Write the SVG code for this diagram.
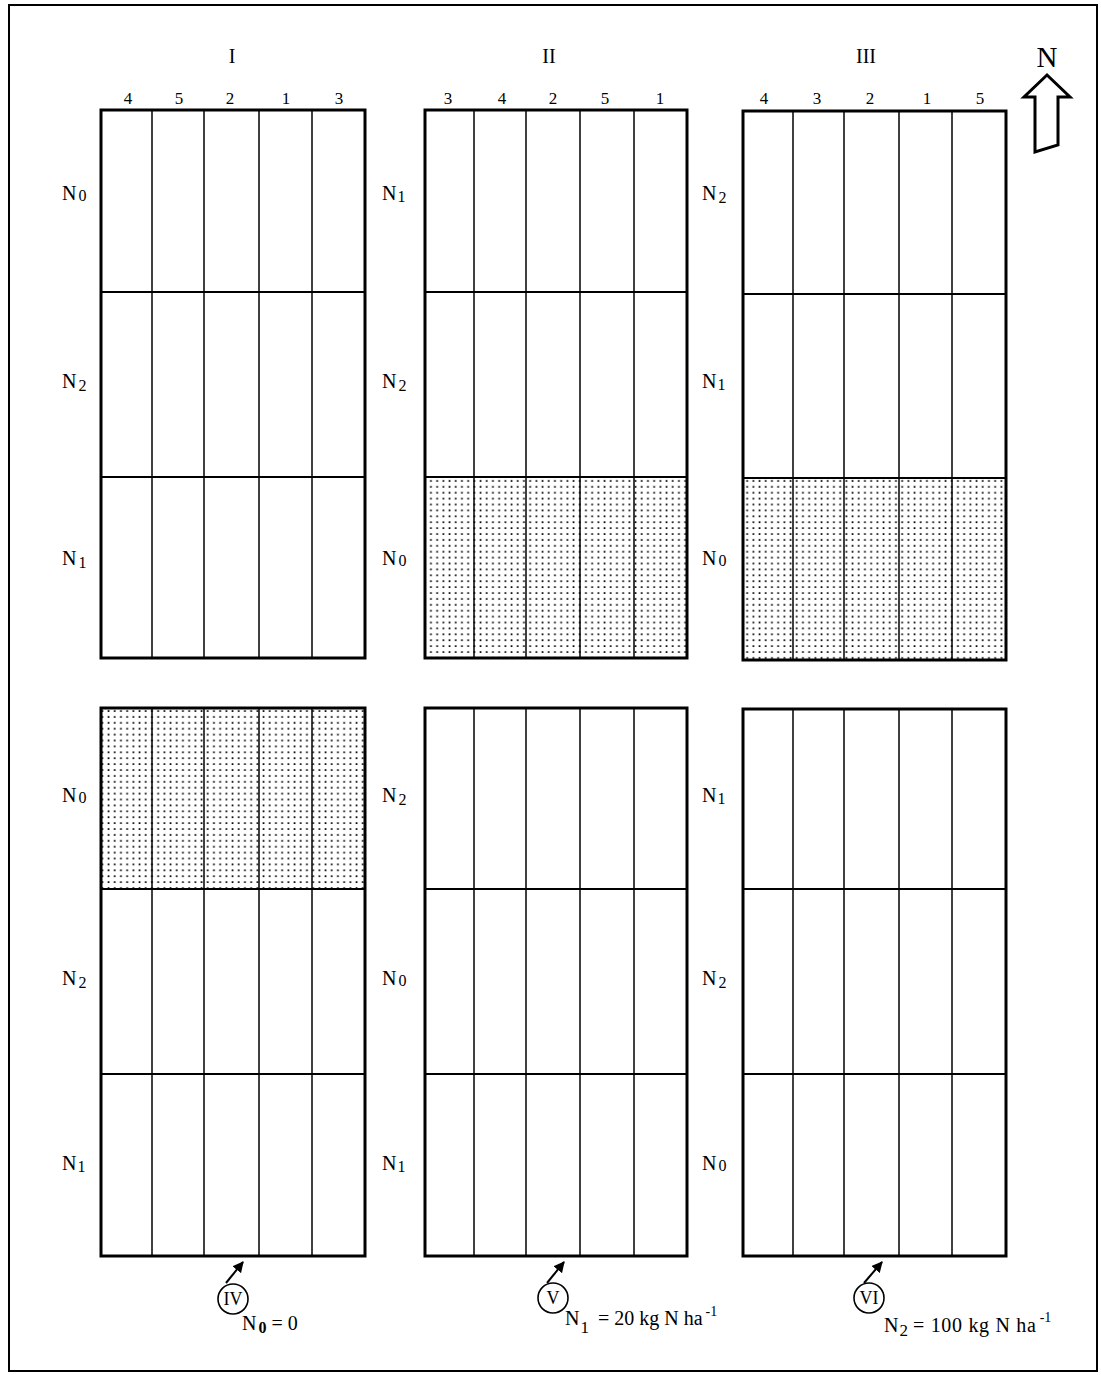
<svg xmlns="http://www.w3.org/2000/svg" width="1101" height="1375" viewBox="0 0 1101 1375">
<style>
.frame{fill:none;stroke:#000;stroke-width:2}
.plot{fill:none;stroke:#000;stroke-width:3}
.dv{stroke:#000;stroke-width:1.5}
.rw{stroke:#000;stroke-width:2}
text{font-family:"Liberation Serif","Times New Roman",serif;fill:#000}
.num{font-size:17px;text-anchor:middle}
.roman{font-size:20px;text-anchor:middle}
.lab{font-size:20px}
.cap{font-size:18px;text-anchor:middle}
.leg{font-size:20px}
.circ{fill:none;stroke:#000;stroke-width:1.6}
.conn{stroke:#000;stroke-width:2;fill:none}
</style>
<defs>
<pattern id="dots" patternUnits="userSpaceOnUse" width="6.2" height="5.9" x="0" y="0">
<rect x="2.3" y="2.2" width="1.7" height="1.7" fill="#000"/>
</pattern>
<marker id="ah" viewBox="0 0 10 10" refX="9" refY="5" markerWidth="5.5" markerHeight="5.5" orient="auto">
<path d="M0,0 L10,5 L0,10 z" fill="#000"/>
</marker>
</defs>
<rect width="1101" height="1375" fill="#fff"/>
<rect class="frame" x="9" y="5" width="1088" height="1366"/>

<g id="header">
<text class="roman" x="232" y="63">I</text>
<text class="roman" x="549" y="63">II</text>
<text class="roman" x="866" y="63">III</text>
</g>

<g id="north-arrow">
<text x="1047" y="67" font-size="29" text-anchor="middle">N</text>
<polygon points="1047,75 1024,97 1035,97 1035,152 1058,145 1058,97 1070,97" fill="none" stroke="#000" stroke-width="3" stroke-linejoin="miter"/>
</g>

<g id="plot-I-upper">
<line class="dv" x1="152" y1="110" x2="152" y2="658"/>
<line class="dv" x1="204" y1="110" x2="204" y2="658"/>
<line class="dv" x1="259" y1="110" x2="259" y2="658"/>
<line class="dv" x1="312" y1="110" x2="312" y2="658"/>
<line class="rw" x1="101" y1="292" x2="365" y2="292"/>
<line class="rw" x1="101" y1="477" x2="365" y2="477"/>
<rect class="plot" x="101" y="110" width="264" height="548"/>
<text class="num" x="128" y="104">4</text>
<text class="num" x="179" y="104">5</text>
<text class="num" x="230" y="104">2</text>
<text class="num" x="286" y="104">1</text>
<text class="num" x="339" y="104">3</text>
<text class="lab" x="62" y="200">N<tspan font-size="16" dx="2" dy="1">0</tspan></text>
<text class="lab" x="62" y="388">N<tspan font-size="16" dx="2" dy="3">2</tspan></text>
<text class="lab" x="62" y="565">N<tspan font-size="16" dx="2" dy="3">1</tspan></text>
</g>

<g id="plot-II-upper">
<rect x="425" y="477" width="262" height="181" fill="url(#dots)"/>
<line class="dv" x1="474" y1="110" x2="474" y2="658"/>
<line class="dv" x1="526" y1="110" x2="526" y2="658"/>
<line class="dv" x1="580" y1="110" x2="580" y2="658"/>
<line class="dv" x1="634" y1="110" x2="634" y2="658"/>
<line class="rw" x1="425" y1="292" x2="687" y2="292"/>
<line class="rw" x1="425" y1="477" x2="687" y2="477"/>
<rect class="plot" x="425" y="110" width="262" height="548"/>
<text class="num" x="448" y="104">3</text>
<text class="num" x="502" y="104">4</text>
<text class="num" x="553" y="104">2</text>
<text class="num" x="605" y="104">5</text>
<text class="num" x="660" y="104">1</text>
<text class="lab" x="382" y="200">N<tspan font-size="16" dx="1" dy="2">1</tspan></text>
<text class="lab" x="382" y="388">N<tspan font-size="16" dx="2" dy="3">2</tspan></text>
<text class="lab" x="382" y="565">N<tspan font-size="16" dx="2" dy="1">0</tspan></text>
</g>

<g id="plot-III-upper">
<rect x="743" y="478" width="263" height="182" fill="url(#dots)"/>
<line class="dv" x1="793" y1="110" x2="793" y2="660"/>
<line class="dv" x1="844" y1="110" x2="844" y2="660"/>
<line class="dv" x1="899" y1="110" x2="899" y2="660"/>
<line class="dv" x1="952" y1="110" x2="952" y2="660"/>
<line class="rw" x1="743" y1="294" x2="1006" y2="294"/>
<line class="rw" x1="743" y1="478" x2="1006" y2="478"/>
<rect class="plot" x="743" y="111" width="263" height="549"/>
<text class="num" x="764" y="104">4</text>
<text class="num" x="817" y="104">3</text>
<text class="num" x="870" y="104">2</text>
<text class="num" x="927" y="104">1</text>
<text class="num" x="980" y="104">5</text>
<text class="lab" x="702" y="200">N<tspan font-size="16" dx="2" dy="3">2</tspan></text>
<text class="lab" x="702" y="388">N<tspan font-size="16" dx="1" dy="2">1</tspan></text>
<text class="lab" x="702" y="565">N<tspan font-size="16" dx="2" dy="1">0</tspan></text>
</g>

<g id="plot-IV-lower">
<rect x="101" y="708" width="264" height="181" fill="url(#dots)"/>
<line class="dv" x1="152" y1="708" x2="152" y2="1256"/>
<line class="dv" x1="204" y1="708" x2="204" y2="1256"/>
<line class="dv" x1="259" y1="708" x2="259" y2="1256"/>
<line class="dv" x1="312" y1="708" x2="312" y2="1256"/>
<line class="rw" x1="101" y1="889" x2="365" y2="889"/>
<line class="rw" x1="101" y1="1074" x2="365" y2="1074"/>
<rect class="plot" x="101" y="708" width="264" height="548"/>
<text class="lab" x="62" y="802">N<tspan font-size="16" dx="2" dy="1">0</tspan></text>
<text class="lab" x="62" y="985">N<tspan font-size="16" dx="2" dy="3">2</tspan></text>
<text class="lab" x="62" y="1170">N<tspan font-size="16" dx="1" dy="2">1</tspan></text>
</g>

<g id="plot-V-lower">
<line class="dv" x1="474" y1="708" x2="474" y2="1256"/>
<line class="dv" x1="526" y1="708" x2="526" y2="1256"/>
<line class="dv" x1="580" y1="708" x2="580" y2="1256"/>
<line class="dv" x1="634" y1="708" x2="634" y2="1256"/>
<line class="rw" x1="425" y1="889" x2="687" y2="889"/>
<line class="rw" x1="425" y1="1074" x2="687" y2="1074"/>
<rect class="plot" x="425" y="708" width="262" height="548"/>
<text class="lab" x="382" y="802">N<tspan font-size="16" dx="2" dy="3">2</tspan></text>
<text class="lab" x="382" y="985">N<tspan font-size="16" dx="2" dy="1">0</tspan></text>
<text class="lab" x="382" y="1170">N<tspan font-size="16" dx="1" dy="2">1</tspan></text>
</g>

<g id="plot-VI-lower">
<line class="dv" x1="793" y1="709" x2="793" y2="1256"/>
<line class="dv" x1="844" y1="709" x2="844" y2="1256"/>
<line class="dv" x1="899" y1="709" x2="899" y2="1256"/>
<line class="dv" x1="952" y1="709" x2="952" y2="1256"/>
<line class="rw" x1="743" y1="889" x2="1006" y2="889"/>
<line class="rw" x1="743" y1="1074" x2="1006" y2="1074"/>
<rect class="plot" x="743" y="709" width="263" height="547"/>
<text class="lab" x="702" y="802">N<tspan font-size="16" dx="1" dy="2">1</tspan></text>
<text class="lab" x="702" y="985">N<tspan font-size="16" dx="2" dy="3">2</tspan></text>
<text class="lab" x="702" y="1170">N<tspan font-size="16" dx="2" dy="1">0</tspan></text>
</g>

<g id="marker-IV">
<circle class="circ" cx="233" cy="1299" r="15"/>
<text class="cap" x="233" y="1305">IV</text>
</g>
<g id="marker-V">
<circle class="circ" cx="553" cy="1298" r="15"/>
<text class="cap" x="553" y="1304">V</text>
</g>
<g id="marker-VI">
<circle class="circ" cx="869" cy="1298" r="15"/>
<text class="cap" x="869" y="1304">VI</text>
</g>

<g id="connectors">
<line class="conn" x1="226" y1="1283" x2="243" y2="1262" marker-end="url(#ah)"/>
<line class="conn" x1="547" y1="1283" x2="564" y2="1262" marker-end="url(#ah)"/>
<line class="conn" x1="864" y1="1283" x2="882" y2="1262" marker-end="url(#ah)"/>
</g>

<g id="legend">
<text class="leg" x="242" y="1330">N<tspan font-size="16" font-weight="bold" dx="2" dy="3">0</tspan><tspan dx="5" dy="-3">= 0</tspan></text>
<text class="leg" x="565" y="1325">N<tspan font-size="17" dx="1" dy="8">1</tspan><tspan dx="9" dy="-8">= 20 kg N ha</tspan><tspan font-size="14" dx="3" dy="-9">-1</tspan></text>
<text class="leg" x="884" y="1332">N<tspan font-size="17" dx="1" dy="4">2</tspan><tspan dx="5" dy="-4" textLength="123" lengthAdjust="spacing">= 100 kg N ha</tspan><tspan font-size="14" dx="3" dy="-10">-1</tspan></text>
</g>
</svg>
